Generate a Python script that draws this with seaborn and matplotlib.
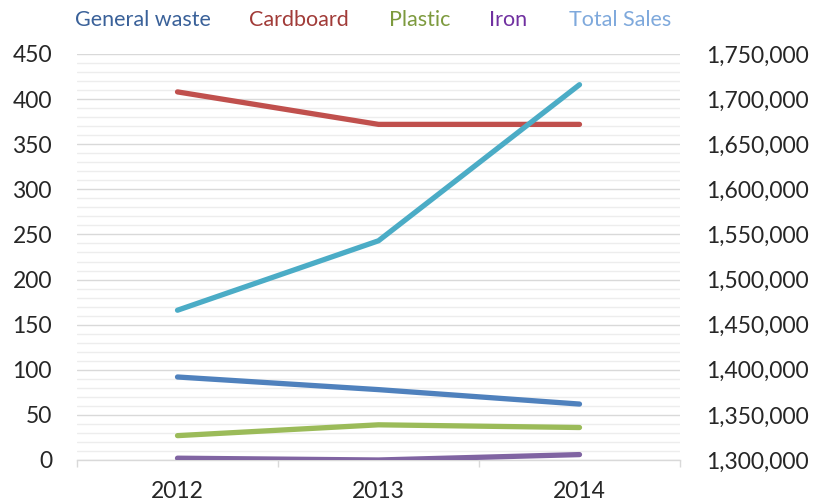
import matplotlib
matplotlib.use("Agg")
import matplotlib.pyplot as plt
import seaborn as sns
import pandas as pd
from matplotlib.ticker import FuncFormatter, MultipleLocator, FixedLocator

years = ["2012", "2013", "2014"]
general_waste = [92, 78, 62]
cardboard = [408, 372, 372]
plastic = [27, 39, 36]
iron = [2, 0, 6]
total_sales = [1466000, 1543000, 1716000]

series_names = ["General waste", "Cardboard", "Plastic", "Iron"]
series_vals = [general_waste, cardboard, plastic, iron]
line_colors = ["#4F81BD", "#C0504D", "#9BBB59", "#8064A2"]
sales_color = "#4BACC6"
legend_colors = ["#3A6199", "#A13B38", "#7D9A3E", "#7030A0", "#7FA9DC"]
legend_labels = ["General waste", "Cardboard", "Plastic", "Iron", "Total Sales"]
legend_x = [143, 299, 420, 508, 620]

sns.set_theme(style="white")
plt.rcParams['font.family'] = ['Lato', 'DejaVu Sans']

fig = plt.figure(figsize=(8.15, 5.04), dpi=100)
ax = fig.add_axes([77/815, 1-460/504, (680-77)/815, (460-54)/504])
ax2 = ax.twinx()

rows = []
for name, vals in zip(series_names, series_vals):
    for i, v in enumerate(vals):
        rows.append({"x": i, "y": v, "series": name})
df = pd.DataFrame(rows)

for name, col in zip(series_names, line_colors):
    sub = df[df.series == name]
    sns.lineplot(data=sub, x="x", y="y", ax=ax, color=col, linewidth=3.8,
                 sort=False, legend=False, solid_capstyle="round", zorder=3)

sdf = pd.DataFrame({"x": range(len(years)), "y": total_sales})
sns.lineplot(data=sdf, x="x", y="y", ax=ax2, color=sales_color, linewidth=3.8,
             sort=False, legend=False, solid_capstyle="round", zorder=3)

ax.set_xlim(-0.5, 2.5)
ax.set_ylim(0, 450)
ax2.set_ylim(1300000, 1750000)

ax.yaxis.set_major_locator(MultipleLocator(50))
ax.yaxis.set_minor_locator(MultipleLocator(10))
ax2.yaxis.set_major_locator(MultipleLocator(50000))
ax2.yaxis.set_major_formatter(FuncFormatter(lambda v, p: f"{int(v):,}"))

ax.grid(True, which="major", axis="y", color="#D9D9D9", linewidth=1.0, zorder=0)
ax.grid(True, which="minor", axis="y", color="#EDEDED", linewidth=1.0, zorder=0)
ax.set_axisbelow(True)

ax.set_xticks(range(len(years)))
ax.set_xticklabels(years)
ax.xaxis.set_minor_locator(FixedLocator([-0.5, 0.5, 1.5, 2.5]))
ax.tick_params(axis="x", which="major", length=0, pad=15, labelsize=16.5, labelcolor="#262626")
ax.tick_params(axis="x", which="minor", length=5, width=1, color="#D9D9D9", direction="out", bottom=True)
ax.tick_params(axis="y", which="both", length=0, pad=18, labelsize=16.5, labelcolor="#262626")
ax2.tick_params(axis="y", which="both", length=0, pad=19, labelsize=16.5, labelcolor="#262626")

for a in (ax, ax2):
    for s in ["top", "left", "right", "bottom"]:
        a.spines[s].set_visible(False)
    a.set_xlabel("")
    a.set_ylabel("")
ax.spines["bottom"].set_visible(True)
ax.spines["bottom"].set_color("#D9D9D9")
ax.spines["bottom"].set_linewidth(1.0)

for lab, col, xp in zip(legend_labels, legend_colors, legend_x):
    fig.text(xp/815, 1-20/504, lab, color=col, fontsize=15.5, ha="center", va="center")

fig.savefig("out.png", dpi=100)
